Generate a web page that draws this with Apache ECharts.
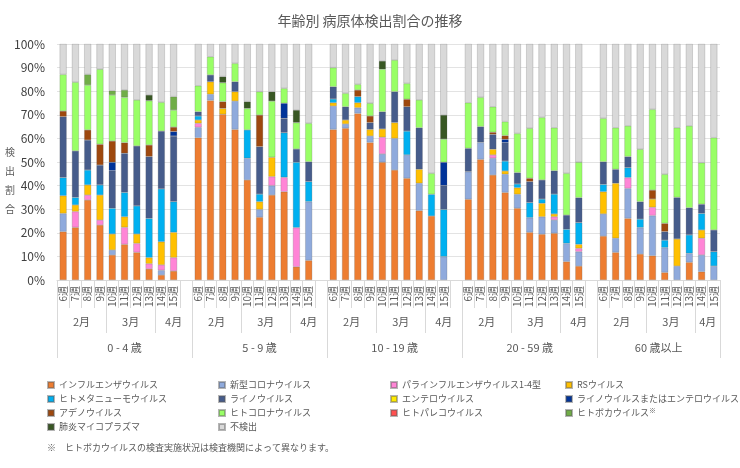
<!DOCTYPE html>
<html>
<head>
<meta charset="utf-8">
<script src="https://cdn.jsdelivr.net/npm/echarts@6/dist/echarts.min.js"></script>
<style>
  html, body { margin: 0; padding: 0; background: #fff; }
  #chart { width: 740px; height: 468px; }
</style>
</head>
<body>
<div id="chart"></div>
<script>
// 横軸の区分
const ageGroups = ['0 - 4 歳', '5 - 9 歳', '10 - 19 歳', '20 - 59 歳', '60 歳以上']
const weeks = ['6週', '7週', '8週', '9週', '10週', '11週', '12週', '13週', '14週', '15週']
const months = ['2月', '3月', '4月']
const monthFirstWeek = [0, 4, 8]

// 検出割合(%)  年齢群ごとに 6週〜15週 の10件ずつ
const influenza = [20.5, 22.3, 33.9, 23.3, 10.6, 15.1, 11.7, 4.7, 2.1, 3.8,
  60.3, 76.1, 70.2, 63.8, 42.4, 26.6, 36.0, 37.4, 5.6, 8.3,
  63.8, 64.3, 70.6, 58.3, 49.9, 46.6, 43.1, 29.4, 27.1, 0,
  34.2, 51.1, 44.5, 37.1, 30.4, 20.2, 19.4, 19.8, 7.8, 5.9,
  18.6, 11.7, 26.1, 11.0, 10.3, 3.2, 0, 7.5, 3.5, 0]
const covid = [7.7, 0, 0, 0, 2.1, 0, 0, 0, 2.0, 0,
  4.4, 2.6, 0, 12.0, 9.2, 3.3, 4.0, 0, 0, 24.9,
  9.9, 1.8, 2.4, 2.7, 3.5, 13.4, 9.9, 11.6, 0, 9.9,
  11.7, 7.2, 7.1, 7.7, 5.9, 6.2, 7.4, 5.6, 7.7, 6.1,
  9.4, 6.0, 12.7, 11.2, 17.0, 10.5, 5.9, 3.8, 7.1, 5.9]
const parainfluenza = [0, 6.7, 2.1, 2.1, 0, 7.2, 3.8, 2.2, 2.3, 5.7,
  1.7, 0, 0, 0, 0, 0, 3.8, 6.1, 16.6, 0,
  0, 0, 0, 0, 7.1, 0, 0, 0, 0, 0,
  0, 0, 1.4, 0, 0, 0, 0, 1.4, 0, 1.4,
  0, 0, 4.6, 0, 3.5, 0, 0, 0, 7.1, 0]
const rsv = [7.5, 2.8, 4.3, 10.6, 6.8, 4.5, 4.0, 2.6, 9.8, 10.7,
  1.4, 5.3, 2.5, 4.0, 0, 3.3, 8.2, 0, 0, 0,
  1.4, 1.7, 2.1, 2.8, 3.5, 6.7, 0, 5.9, 0, 0,
  0, 0, 2.4, 1.4, 2.8, 0, 5.7, 1.2, 0, 1.7,
  9.4, 23.3, 0, 0, 3.5, 0, 11.5, 0, 3.5, 0]
const hmpv = [7.7, 3.2, 6.3, 4.3, 10.9, 10.3, 11.9, 16.6, 22.4, 13.0,
  1.7, 0, 0, 0, 12.0, 3.2, 0, 18.9, 27.7, 8.5,
  1.6, 0, 2.6, 0, 0, 0, 10.1, 0, 9.2, 20.0,
  0, 0, 0, 4.2, 1.6, 6.4, 1.8, 8.4, 6.0, 9.2,
  3.1, 0, 4.2, 3.6, 0, 3.2, 0, 7.8, 7.0, 6.1]
const rhino = [25.8, 19.7, 12.7, 8.4, 15.9, 16.6, 25.4, 26.2, 24.5, 27.8,
  1.8, 2.9, 0, 4.2, 0, 20.1, 0, 6.1, 5.6, 8.4,
  5.2, 5.6, 0, 2.9, 7.3, 13.1, 10.3, 17.6, 0, 10.1,
  9.9, 6.7, 6.3, 7.8, 4.8, 8.9, 8.1, 9.9, 6.0, 10.6,
  9.6, 5.9, 4.7, 7.4, 0, 3.6, 17.6, 11.5, 3.9, 9.2]
const entero = [0, 0, 0, 0, 0, 0, 0, 0, 0, 0,
  0, 0, 0, 0, 0, 0, 0, 0, 0, 0,
  0, 0, 0, 0, 0, 0, 0, 0, 0, 0,
  0, 0, 0, 0, 0, 0, 0, 0, 0, 0,
  0, 0, 0, 0, 0, 0, 0, 0, 0, 0]
const rhinoOrEntero = [0, 0, 0, 0, 3.6, 0, 0, 0, 0, 1.9,
  0, 0, 0, 0, 0, 0, 0, 6.4, 0, 0,
  0, 0, 0, 0, 0, 0, 0, 0, 0, 9.9,
  0, 0, 0, 1.4, 0, 0, 0, 0, 0, 0,
  0, 0, 0, 0, 0, 0, 0, 0, 0, 0]
const adeno = [2.4, 0, 4.3, 8.8, 9.0, 4.5, 0, 4.9, 0, 1.9,
  0, 0, 2.9, 0, 0, 13.4, 0, 0, 0, 0,
  0, 0, 2.8, 2.8, 0, 0, 3.2, 0, 0, 0,
  0, 0, 0.9, 1.6, 0, 1.4, 0, 0, 0, 0,
  0, 0, 0, 0, 3.8, 3.5, 0, 0, 0, 0]
const humanCorona = [15.5, 29.1, 19.0, 31.8, 19.5, 19.2, 19.5, 18.8, 12.2, 7.2,
  11.0, 7.7, 8.0, 7.8, 9.1, 9.9, 23.8, 6.3, 11.2, 16.3,
  8.1, 5.7, 2.4, 5.4, 18.0, 13.4, 6.7, 11.8, 8.9, 9.8,
  19.3, 12.4, 10.8, 5.9, 16.6, 21.2, 26.5, 18.2, 17.7, 15.0,
  18.4, 17.6, 13.0, 22.2, 34.2, 20.8, 29.5, 34.7, 17.6, 39.1]
const parecho = [0, 0, 0, 0, 0, 0, 0, 0, 0, 0,
  0, 0, 0, 0, 0, 0, 0, 0, 0, 0,
  0, 0, 0, 0, 0, 0, 0, 0, 0, 0,
  0, 0, 0, 0, 0, 0, 0, 0, 0, 0,
  0, 0, 0, 0, 0, 0, 0, 0, 0, 0]
const boca = [0, 0, 4.5, 0, 1.8, 3.1, 0, 0, 0, 5.7,
  0, 0, 0, 0, 0, 0, 0, 0, 0, 0,
  0, 0, 0, 0, 0, 0, 0, 0, 0, 0,
  0, 0, 0, 0, 0, 0, 0, 0, 0, 0,
  0, 0, 0, 0, 0, 0, 0, 0, 0, 0]
const mycoplasma = [0, 0, 0, 0, 0, 0, 0, 2.4, 0, 0,
  0, 0, 2.6, 0, 2.9, 0, 4.0, 0, 5.3, 0,
  0, 0, 0, 0, 3.5, 0, 0, 0, 0, 10.2,
  0, 0, 0, 0, 0, 0, 0, 0, 0, 0,
  0, 0, 0, 0, 0, 0, 0, 0, 0, 0]
const notDetected = [12.9, 16.2, 12.9, 10.7, 19.8, 19.5, 23.7, 21.6, 24.7, 22.3,
  17.7, 5.4, 13.8, 8.2, 24.4, 20.2, 20.2, 18.8, 28.0, 33.6,
  10.0, 20.9, 17.1, 25.1, 7.2, 6.8, 16.7, 23.7, 54.8, 30.1,
  24.9, 22.6, 26.6, 32.9, 37.9, 35.7, 31.1, 35.5, 54.8, 50.1,
  31.5, 35.5, 34.7, 44.6, 27.7, 55.2, 35.5, 34.7, 50.3, 39.7]

// 系列（積み上げ順）
const seriesList = [
  ['インフルエンザウイルス', influenza],
  ['新型コロナウイルス', covid],
  ['パラインフルエンザウイルス1-4型', parainfluenza],
  ['RSウイルス', rsv],
  ['ヒトメタニューモウイルス', hmpv],
  ['ライノウイルス', rhino],
  ['エンテロウイルス', entero],
  ['ライノウイルスまたはエンテロウイルス', rhinoOrEntero],
  ['アデノウイルス', adeno],
  ['ヒトコロナウイルス', humanCorona],
  ['ヒトパレコウイルス', parecho],
  ['ヒトボカウイルス', boca],
  ['肺炎マイコプラズマ', mycoplasma],
  ['不検出', notDetected]
]

const colors = ['#ED7D31', '#8FAADC', '#FF85D6', '#FFC000', '#00B0F0', '#465C8B', '#FFEB00',
  '#003399', '#9E480E', '#99FF66', '#FF5050', '#70AD47', '#385723', '#D9D9D9']

const textColor = '#595959'
const lineColor = '#D9D9D9'
const font = 'Noto Sans CJK JP'

// 年齢群の間に空の区分を1つ挟む
const categories = []
const groupStart = []
ageGroups.forEach((g, gi) => {
  groupStart.push(categories.length)
  weeks.forEach(w => categories.push(w))
  if (gi < ageGroups.length - 1) categories.push('')
})
const groupSize = gi => (gi < ageGroups.length - 1 ? weeks.length + 1 : weeks.length)

const toSlots = values => {
  const out = []
  ageGroups.forEach((g, gi) => {
    weeks.forEach((w, wi) => {
      const v = values[gi * weeks.length + wi]
      out.push(v ? v : null)
    })
    if (gi < ageGroups.length - 1) out.push(null)
  })
  return out
}

// 月・年齢群ラベルの位置と区切り線
const monthLabelAt = {}
const ageLabelAt = {}
const monthBreaks = new Set()
const groupBreaks = new Set()
ageGroups.forEach((g, gi) => {
  const s = groupStart[gi]
  const size = groupSize(gi)
  groupBreaks.add(s)
  months.forEach((m, mi) => {
    const a = monthFirstWeek[mi]
    const b = mi < months.length - 1 ? monthFirstWeek[mi + 1] - 1 : size - 1
    monthLabelAt[Math.round((s + (a + b) / 2) * 2)] = m
    monthBreaks.add(s + a)
  })
  ageLabelAt[Math.round((s + (size - 1) / 2) * 2)] = g
})

const labelAxis = (lookup, margin) => ({
  type: 'value',
  position: 'bottom',
  min: -0.5,
  max: categories.length - 0.5,
  interval: 0.5,
  axisLine: { show: false },
  axisTick: { show: false },
  splitLine: { show: false },
  axisLabel: {
    margin: margin,
    fontSize: 11,
    fontFamily: font,
    color: textColor,
    formatter: v => lookup[Math.round(v * 2)] || ''
  }
})

const breakAxis = (breaks, len) => ({
  type: 'category',
  position: 'bottom',
  data: categories,
  axisLine: { show: false },
  axisLabel: { show: false },
  axisTick: {
    show: true,
    length: len,
    interval: idx => breaks.has(idx),
    lineStyle: { color: lineColor }
  }
})

const legendColumns = [
  ['インフルエンザウイルス', 'ヒトメタニューモウイルス', 'アデノウイルス', '肺炎マイコプラズマ'],
  ['新型コロナウイルス', 'ライノウイルス', 'ヒトコロナウイルス', '不検出'],
  ['パラインフルエンザウイルス1-4型', 'エンテロウイルス', 'ヒトパレコウイルス'],
  ['RSウイルス', 'ライノウイルスまたはエンテロウイルス', 'ヒトボカウイルス']
]
const legendLeft = [42, 213, 385, 560]

const chart = echarts.init(document.getElementById('chart'))

chart.setOption({
  animation: false,
  textStyle: { fontFamily: font },
  title: [
    {
      text: '年齢別 病原体検出割合の推移',
      left: 'center',
      top: 9,
      textStyle: { fontSize: 14, fontWeight: 'normal', color: textColor, fontFamily: font }
    },
    {
      text: '※　ヒトボカウイルスの検査実施状況は検査機関によって異なります。',
      left: 42,
      top: 438,
      textStyle: { fontSize: 9, fontWeight: 'normal', color: textColor, fontFamily: font }
    }
  ],
  legend: legendColumns.map((names, i) => ({
    data: names,
    orient: 'vertical',
    left: legendLeft[i],
    top: 374,
    itemWidth: 6,
    itemHeight: 6,
    itemGap: 2,
    icon: 'rect',
    selectedMode: false,
    formatter: name => (name === 'ヒトボカウイルス' ? '{t|' + name + '}{s|※}' : name),
    textStyle: {
      fontSize: 9,
      lineHeight: 12,
      color: textColor,
      fontFamily: font,
      rich: {
        t: { fontSize: 9, lineHeight: 12, color: textColor, fontFamily: font },
        s: { fontSize: 7, lineHeight: 12, verticalAlign: 'top', color: textColor, padding: [0, 0, 5, 0] }
      }
    }
  })),
  grid: { left: 57, right: 20, top: 44, bottom: 188 },
  xAxis: [
    {
      type: 'category',
      position: 'bottom',
      data: categories,
      axisLine: { lineStyle: { color: lineColor } },
      axisTick: { show: true, interval: 0, length: 28, lineStyle: { color: lineColor } },
      axisLabel: { interval: 0, rotate: 90, fontSize: 10, margin: 6, color: textColor, fontFamily: font }
    },
    breakAxis(monthBreaks, 53),
    breakAxis(groupBreaks, 78),
    labelAxis(monthLabelAt, 36),
    labelAxis(ageLabelAt, 62)
  ],
  yAxis: {
    type: 'value',
    min: 0,
    max: 100,
    interval: 10,
    name: ' \n \n検\n出\n割\n合',
    nameLocation: 'middle',
    nameRotate: 0,
    nameGap: 42,
    nameMoveOverlap: false,
    nameTextStyle: { fontSize: 10, lineHeight: 19, color: textColor, fontFamily: font },
    axisLine: { show: false },
    axisTick: { show: false },
    axisLabel: { formatter: '{value}%', fontSize: 12, margin: 12, color: '#404040', fontFamily: font },
    splitLine: { lineStyle: { color: '#E3E3E3' } }
  },
  series: seriesList.map(([name, values], i) => ({
    name: name,
    type: 'bar',
    stack: 'total',
    xAxisIndex: 0,
    barWidth: 7,
    itemStyle: { color: colors[i], borderColor: 'rgba(90,90,90,0.45)', borderWidth: 0.5 },
    data: toSlots(values)
  }))
})
</script>
</body>
</html>
